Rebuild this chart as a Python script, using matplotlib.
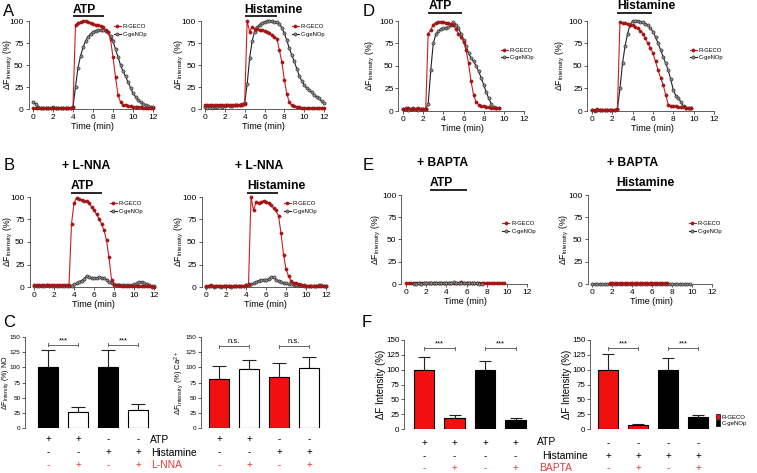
import numpy as np
import matplotlib
matplotlib.use('Agg')
import matplotlib.pyplot as plt
from matplotlib import transforms
from matplotlib.patches import Patch

plt.rcParams['font.family'] = ['Liberation Sans', 'DejaVu Sans']
plt.rcParams['mathtext.fontset'] = 'custom'
plt.rcParams['mathtext.rm'] = 'Liberation Sans'
plt.rcParams['mathtext.it'] = 'Liberation Sans:italic'
plt.rcParams['mathtext.bf'] = 'Liberation Sans:bold'

W, H = 757, 473
RED_LINE = '#cc1f1f'
RED_MARK = '#a31515'
RED_BAR = '#f01010'
RED_TXT = '#e23a3a'

# ---- time grids (min) ----
t12 = np.arange(0, 12.01, 0.25)
t95 = np.arange(0, 9.51, 0.25)
t975 = np.arange(0, 9.76, 0.25)
t_e_black = np.arange(0.75, 7.51, 0.25)
t_e_red = np.arange(1.75, 7.51, 0.25)

# ---- A: ATP / Histamine ----
a_atp_red = [1, 1, 1, 1, 1, 1, 1, 1, 1.5, 1, 1, 1, 1, 1, 1, 1.5,
             2, 96, 98, 99, 100, 100, 99, 98, 97, 96, 95, 94, 93, 90, 87, 79, 59, 36, 16, 8, 5, 4, 3, 3, 2,
             2, 2, 2, 1.5, 1.5, 1, 1, 1]
a_atp_black = [8, 6, 2, 1, 1, 1, 1, 1, 2, 1, 1, 1, 1, 1, 1, 1,
               2, 25, 47, 60, 70, 77, 82, 85, 88, 89, 90, 90, 90, 89, 87, 83, 77, 68, 59, 50,
               43, 37, 31, 24, 18, 14, 10, 8, 6, 4, 3, 2, 2]
a_his_red = [4, 4, 5, 4, 4, 4, 5, 4, 4, 5, 4, 4, 4, 4, 5, 5,
             6, 100, 88, 93, 91, 91, 90, 90, 89, 88, 86, 84, 82, 80, 67, 53, 33, 17, 8, 4, 3, 2, 2, 1, 1,
             1, 1, 1, 1, 1, 1, 1, 1]
a_his_black = [2, 1, 3, 1, 2, 2, 3, 2, 3, 4, 3, 3, 4, 4, 5, 6,
               7, 28, 58, 77, 88, 93, 96, 98, 99, 100, 100, 100, 99, 99, 97, 92, 86, 78, 69, 61,
               54, 46, 38, 32, 27, 24, 22, 19, 16, 14, 12, 9, 7]

# ---- B: + L-NNA ----
b_atp_red = [2, 2, 2, 2, 2, 2, 2, 2, 2, 2, 2, 2, 2, 2, 2,
             70, 93, 99, 98, 97, 96, 95, 93, 89, 85, 81, 76, 70, 63, 52, 33, 8, 2,
             2, 2, 1, 1, 1, 1, 1, 1, 1, 1, 1, 1, 1, 1, 0.5, 0.5]
b_atp_black = [1, 1, 1, 1, 1, 2, 1, 1, 1, 1, 1, 1, 1, 1, 1, 1,
               3, 4, 6, 7, 9, 12, 11, 10, 10, 10, 11, 10, 10, 8, 6, 4, 3, 2, 2, 2,
               2, 2, 2, 2, 3, 4, 6, 6, 5, 3, 2, 1, 1]
b_his_red = [1, 1, 2, 1, 1, 1, 1, 1, 1, 1, 1, 1, 1, 1, 1, 1, 2,
             3,
             100, 85, 94, 93, 94, 96, 94, 93, 91, 88, 85, 79, 60, 36, 20, 12, 7, 5, 4, 3, 2, 2, 1,
             1, 1, 1, 1, 1, 1, 1, 1]
b_his_black = [0, 1, 1, 0, 1, 1, 0, 1, 1, 1, 0, 1, 1, 1, 1, 1, 2, 2,
               3, 4, 6, 7, 8, 8, 8, 9, 11, 11, 8, 7, 6, 5, 4, 3, 3, 2, 2,
               2, 2, 1, 1, 1, 1, 1, 1, 2, 2, 1, 1]

# ---- D: ATP / Histamine (second cell set) ----
d_atp_red = [2, 2, 3, 2, 2, 2, 3, 2, 2, 2,
             86, 90, 96, 98, 99, 99, 99, 98, 98, 97, 95, 91, 86, 82, 77, 68, 53, 33, 18, 10,
             7, 6, 5, 4, 4, 3, 3, 3, 3]
d_atp_black = [2, 3, 1, 2, 3, 2, 1, 2, 2, 2,
               8, 45, 75, 85, 89, 91, 92, 92, 93, 95, 99, 96, 92, 86, 79, 72, 64, 59, 55, 50,
               44, 37, 29, 21, 14, 8, 4, 3, 3]
d_his_red = [1, 1, 2, 1, 1, 1, 1, 1, 1, 1, 2,
             99, 98, 98, 97, 96, 95, 93, 92, 89, 86, 81, 75, 70, 64, 55, 45, 37, 29, 18, 7,
             6, 5, 5, 4, 4, 4, 3, 3, 3]
d_his_black = [1, 0, 1, 1, 1, 1, 1, 1, 1, 1, 2,
               25, 53, 72, 86, 96, 100, 100, 100, 99, 99, 97, 95, 92, 88, 82, 75, 68, 60, 53, 45,
               35, 23, 17, 14, 10, 5, 3, 3, 3]

# ---- E: + BAPTA ----
e_atp_red = [1, 1, 1, 1, 1, 1, 1, 1, 1, 1, 1, 1.5, 1, 1, 1, 1.5, 1.5, 1.5, 1.5, 1.5,
             1.5, 1.5, 2, 1.5, 1.5, 1.5, 1.5, 1.5, 1.5, 1.5, 1.5, 1.5, 1.5, 1.5, 1.5, 1.5, 1.5, 1.5, 1.5, 1.5]
e_atp_black = [0.5, 0.5, 1, 0.5, 1, 1, 1, 1, 1, 1, 1, 1.5, 1.5, 1.5, 1.5, 1.5, 2, 1.5, 1.5, 1.5,
               1.5, 1.5, 1.5, 1, 1, 1, 0.5, 0.5]
e_his_black = [0.5, 0.5, 0.5, 0.5, 0.5, 0.5, 0.5, 0.5, 0.5, 0.5, 0.5, 0.5, 0.5, 0.5, 0.5, 0.5, 0.5, 0.5, 0.5, 0.5,
               0.5, 0.5, 0.5, 0.5, 0.5, 0.5, 0.5, 0.5, 0.5, 0.5, 0.5, 0.5, 0.5, 0.5, 0.5, 0.5, 0.5, 0.5, 0.5, 0.5]
e_his_red = [1, 1, 1, 1, 1, 1, 1, 1, 1, 1, 1, 1, 1, 1, 1, 1, 1, 1, 1, 1, 1, 1, 1, 1]

# ---- bar data ----
c_no_vals = [100, 26, 100, 29]
c_no_err = [28, 8, 28, 11]
c_ca_vals = [80, 97, 84, 99]
c_ca_err = [22, 15, 23, 18]
f_atp_vals = [100, 19, 100, 16]
f_atp_err = [21, 4, 14, 2]
f_his_vals = [100, 7, 100, 20]
f_his_err = [27, 2, 20, 3.5]

c_rows = [['+', '+', '-', '-'], ['-', '-', '+', '+'], ['-', '+', '-', '+']]
f_rows_atp = [['+', '+', '+', '+'], ['-', '-', '-', '-'], ['-', '+', '-', '+']]
f_rows_his = [['-', '-', '-', '-'], ['+', '+', '+', '+'], ['-', '+', '-', '+']]

YLAB_TS = r'$\Delta$F$_{\mathrm{Intensity}}$ (%)'

fig = plt.figure(figsize=(W / 100, H / 100), dpi=100)


def px_box(l, t, r, b):
    return [l / W, 1 - b / H, (r - l) / W, (b - t) / H]


def fy(py):
    return 1 - py / H


def fx(px):
    return px / W


def trace_panel(x0, x12, y100, y0, series, leg, ylab_right):
    sx = (x12 - x0) / 12.0
    sy = (y0 - y100) / 100.0
    xlo, xhi, ylo, yhi = -0.45, 12.3, -3, 104
    ax = fig.add_axes(px_box(x0 + xlo * sx, y0 - yhi * sy, x0 + xhi * sx, y0 - ylo * sy))
    ax.set_xlim(xlo, xhi)
    ax.set_ylim(ylo, yhi)
    handles = {}
    for t, v, kind in series:
        if kind == 'red':
            ln, = ax.plot(t, v, '-', color=RED_LINE, lw=0.8, marker='o', ms=2.3,
                          mfc=RED_MARK, mec=RED_MARK, mew=0.4, zorder=4)
        else:
            ln, = ax.plot(t, v, '-', color='#222222', lw=0.8, marker='o', ms=2.3,
                          mfc='#8c8c8c', mec='#222222', mew=0.4, zorder=3)
        handles[kind] = ln
    for s in ['top', 'right']:
        ax.spines[s].set_visible(False)
    ax.spines['left'].set_bounds(0, 100)
    ax.spines['bottom'].set_bounds(0, 12)
    ax.spines['bottom'].set_position(('data', 0))
    for s in ['left', 'bottom']:
        ax.spines[s].set_linewidth(0.6)
        ax.spines[s].set_color('#444444')
    ax.set_xticks([0, 2, 4, 6, 8, 10, 12])
    ax.set_yticks([0, 25, 50, 75, 100])
    ax.tick_params(labelsize=6, length=2, width=0.6, pad=1.5, color='#444444')
    ax.set_xlabel('Time (min)', fontsize=6.5, labelpad=1)
    ax.set_ylabel(YLAB_TS, fontsize=6.2)
    ax.yaxis.set_label_coords(fx(ylab_right), 0.5,
                              transform=transforms.blended_transform_factory(fig.transFigure, ax.transAxes))
    mx, my = leg
    ax.legend([handles['red'], handles['black']], ['R-GECO', 'C-geNOp'], loc='center left',
              bbox_to_anchor=(fx(mx - 3.5), fy(my)), bbox_transform=fig.transFigure,
              frameon=False, fontsize=4.2, handlelength=1.2, handletextpad=0.4,
              labelspacing=0.45, borderpad=0, borderaxespad=0)
    return ax


def drug(ax, name, t0, t1, ytext, yline):
    tr = transforms.blended_transform_factory(ax.transData, fig.transFigure)
    ax.text(t0, fy(ytext), name, transform=tr, ha='left', va='center',
            fontsize=8.7, fontweight='bold')
    ax.plot([t0, t1], [fy(yline), fy(yline)], transform=tr, color='black', lw=1.2,
            clip_on=False, solid_capstyle='butt')


def bar_panel(spine_x, c1, step, right_px, y150, y0, vals, errs, colors, capsize,
              ylab, ylab_size, ylab_right, tick_size):
    pos = np.arange(1, 5)
    ax = fig.add_axes(px_box(spine_x, y150, right_px, y0))
    ax.set_xlim(1 + (spine_x - c1) / step, 1 + (right_px - c1) / step)
    ax.set_ylim(0, 150)
    ax.errorbar(pos, vals, yerr=[np.zeros(4), errs], fmt='none', ecolor='#222222',
                elinewidth=0.8, capsize=capsize, capthick=0.8, zorder=1)
    ax.bar(pos, vals, width=0.67, color=colors, edgecolor='black', linewidth=0.8, zorder=2)
    for s in ['top', 'right', 'bottom']:
        ax.spines[s].set_visible(False)
    ax.spines['left'].set_linewidth(0.6)
    ax.spines['left'].set_color('#444444')
    ax.set_xticks([])
    ax.set_yticks([0, 25, 50, 75, 100, 125, 150])
    ax.tick_params(labelsize=tick_size, length=2, width=0.6, pad=1.2, color='#444444')
    ax.set_ylabel(ylab, fontsize=ylab_size)
    ax.yaxis.set_label_coords(fx(ylab_right), 0.5,
                              transform=transforms.blended_transform_factory(fig.transFigure, ax.transAxes))
    return ax, pos


def bracket(ax, x1, x2, y, label):
    ax.plot([x1, x2], [y, y], color='#666666', lw=0.7, clip_on=False)
    for xx in (x1, x2):
        ax.plot([xx, xx], [y - 2.5, y + 2.5], color='#666666', lw=0.7, clip_on=False)
    ax.text((x1 + x2) / 2, y + 1, label, ha='center', va='bottom', fontsize=5.5, clip_on=False)


def sign_rows(ax, pos, rows, ys):
    tr = transforms.blended_transform_factory(ax.transData, fig.transFigure)
    for i, (row, ypx) in enumerate(zip(rows, ys)):
        col = RED_TXT if i == 2 else 'black'
        for p, s in zip(pos, row):
            ax.text(p, fy(ypx), s, transform=tr, ha='center', va='center', fontsize=7, color=col)


# ---------------- A ----------------
ax = trace_panel(33, 153, 21, 109, [(t12, a_atp_black, 'black'), (t12, a_atp_red, 'red')],
                 (117, 30.5), 15)
drug(ax, 'ATP', 4.0, 7.1, 10, 16)
ax = trace_panel(205, 324, 21, 109, [(t12, a_his_black, 'black'), (t12, a_his_red, 'red')],
                 (295, 30.5), 186)
drug(ax, 'Histamine', 4.0, 7.3, 10, 16)

# ---------------- B ----------------
ax = trace_panel(34, 154, 197, 287, [(t12, b_atp_black, 'black'), (t12, b_atp_red, 'red')],
                 (113, 207.5), 15)
drug(ax, 'ATP', 3.7, 6.8, 186, 193)
ax = trace_panel(206, 326, 197, 287, [(t12, b_his_black, 'black'), (t12, b_his_red, 'red')],
                 (287, 207.5), 186)
drug(ax, 'Histamine', 4.1, 7.2, 186, 193)
fig.text(fx(62), fy(166), '+ L-NNA', ha='left', va='center', fontsize=8.7, fontweight='bold')
fig.text(fx(235), fy(166), '+ L-NNA', ha='left', va='center', fontsize=8.7, fontweight='bold')

# ---------------- D ----------------
ax = trace_panel(403, 524, 21, 111, [(t95, d_atp_black, 'black'), (t95, d_atp_red, 'red')],
                 (504, 54), 377)
drug(ax, 'ATP', 2.5, 5.9, 6, 13)
ax = trace_panel(592, 714, 21, 111, [(t975, d_his_black, 'black'), (t975, d_his_red, 'red')],
                 (693, 54), 567)
drug(ax, 'Histamine', 2.5, 5.9, 6, 13)

# ---------------- E ----------------
ax = trace_panel(406, 527, 195, 284, [(t975, e_atp_red, 'red'), (t_e_black, e_atp_black, 'black')],
                 (506, 227.5), 383)
ax.lines[1].set_zorder(5)
drug(ax, 'ATP', 2.4, 6.0, 183, 190)
ax = trace_panel(592, 712, 195, 284, [(t975, e_his_black, 'black'), (t_e_red, e_his_red, 'red')],
                 (692, 227.5), 571)
drug(ax, 'Histamine', 2.4, 5.9, 183, 190)
fig.text(fx(417), fy(163), '+ BAPTA', ha='left', va='center', fontsize=8.7, fontweight='bold')
fig.text(fx(607), fy(163), '+ BAPTA', ha='left', va='center', fontsize=8.7, fontweight='bold')

# ---------------- C ----------------
ax, pos = bar_panel(25, 48, 30, 152, 337, 428, c_no_vals, c_no_err,
                    ['black', 'white', 'black', 'white'], 5,
                    r'$\Delta$F$_{\mathrm{Intensity}}$ (%) NO', 5.0, 10.8, 4.6)
bracket(ax, 1, 2, 137, '***')
bracket(ax, 3, 4, 137, '***')
sign_rows(ax, pos, c_rows, [439, 452, 465])
ax, pos = bar_panel(201, 219, 30, 325, 337, 428, c_ca_vals, c_ca_err,
                    [RED_BAR, 'white', RED_BAR, 'white'], 5,
                    r'$\Delta$F$_{\mathrm{Intensity}}$ (%) Ca$^{2+}$', 5.5, 186, 4.6)
bracket(ax, 1, 2, 135, 'n.s.')
bracket(ax, 3, 4, 135, 'n.s.')
sign_rows(ax, pos, c_rows, [439, 452, 465])
fig.text(fx(150), fy(440), 'ATP', ha='left', va='center', fontsize=7.4)
fig.text(fx(151), fy(453), 'Histamine', ha='left', va='center', fontsize=7.4)
fig.text(fx(151), fy(465), 'L-NNA', ha='left', va='center', fontsize=7.4, color=RED_TXT)

# ---------------- F ----------------
ax, pos = bar_panel(404, 424, 30.5, 530, 340, 429, f_atp_vals, f_atp_err,
                    [RED_BAR, RED_BAR, 'black', 'black'], 4.5,
                    'ΔF Intensity (%)', 7.0, 386, 5.8)
bracket(ax, 1, 2, 136, '***')
bracket(ax, 3, 4, 136, '***')
sign_rows(ax, pos, f_rows_atp, [443, 456, 468])
ax, pos = bar_panel(590, 608, 30, 712, 340, 429, f_his_vals, f_his_err,
                    [RED_BAR, RED_BAR, 'black', 'black'], 4.5,
                    'ΔF Intensity (%)', 7.0, 572, 5.8)
bracket(ax, 1, 2, 136, '***')
bracket(ax, 3, 4, 136, '***')
sign_rows(ax, pos, f_rows_his, [443, 456, 468])
ax.legend([Patch(facecolor=RED_BAR, edgecolor='black', lw=0.5),
           Patch(facecolor='black', edgecolor='black', lw=0.5)],
          ['R-GECO', 'C-geNOp'], loc='center left', bbox_to_anchor=(fx(716), fy(420)),
          bbox_transform=fig.transFigure, frameon=False, fontsize=4.3, handlelength=0.6,
          handleheight=1.1, handletextpad=0.4, labelspacing=0.15, borderpad=0, borderaxespad=0)
fig.text(fx(537), fy(442), 'ATP', ha='left', va='center', fontsize=7.4)
fig.text(fx(542), fy(456), 'Histamine', ha='left', va='center', fontsize=7.4)
fig.text(fx(539), fy(468), 'BAPTA', ha='left', va='center', fontsize=7.4, color=RED_TXT)

# ---------------- panel letters ----------------
for letter, x, y in [('A', 9, 12), ('B', 9, 166), ('C', 9, 322),
                     ('D', 369, 11), ('E', 368, 166), ('F', 367, 322)]:
    fig.text(fx(x), fy(y), letter, ha='center', va='center', fontsize=12)

fig.savefig('out.png', dpi=100)
